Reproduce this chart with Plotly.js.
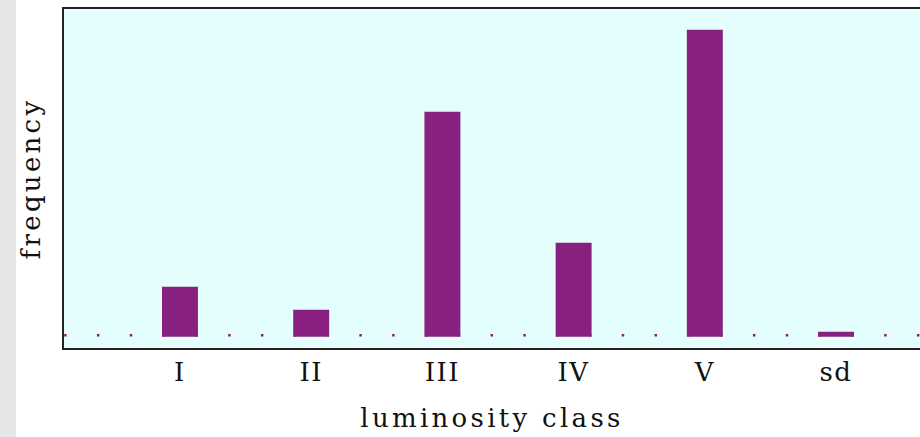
<!DOCTYPE html>
<html>
<head>
<meta charset="utf-8">
<script src="https://cdn.plot.ly/plotly-3.0.1.min.js"></script>
<style>
html,body{margin:0;padding:0;background:#ffffff;}
#strip{position:absolute;left:0;top:0;width:16px;height:437px;background:#e6e6e6;z-index:5;}
#chart{position:absolute;left:0;top:0;width:920px;height:437px;}
#chart .xtitle, #chart .ytitle{letter-spacing:3.3px;}
#chart .xtick text{letter-spacing:1.5px;}
</style>
</head>
<body>
<div id="strip"></div>
<div id="chart"></div>
<script>
// Data
var categories = ["I", "II", "III", "IV", "V", "sd"];
var positions = [0, 1, 2, 3, 4, 5];
var frequency = [50, 27, 225, 94, 307, 5];

var purple = "#88207f";
var fontFam = "DejaVu Serif, Liberation Serif, serif";

var bars = {
  type: "bar",
  x: positions,
  y: frequency,
  marker: {color: purple, line: {width: 0}},
  hoverinfo: "skip"
};

var layout = {
  width: 920,
  height: 437,
  margin: {l: 64, r: 0, t: 9, b: 89},
  paper_bgcolor: "rgba(0,0,0,0)",
  plot_bgcolor: "#e4fdfd",
  bargap: 0.726,
  showlegend: false,
  xaxis: {
    range: [-0.884, 5.64],
    tickmode: "array",
    tickvals: positions,
    ticktext: categories,
    ticks: "",
    showgrid: false,
    zeroline: false,
    showline: true,
    mirror: true,
    linecolor: "#222222",
    linewidth: 2,
    tickfont: {family: fontFam, size: 26, color: "#111111"},
    title: {text: "luminosity class", font: {family: fontFam, size: 26, color: "#111111"}, standoff: 23}
  },
  yaxis: {
    range: [-11.3, 327.7],
    showticklabels: false,
    ticks: "",
    showgrid: false,
    zeroline: false,
    showline: true,
    linecolor: "#222222",
    linewidth: 2,
    title: {text: "frequency", font: {family: fontFam, size: 26, color: "#111111"}, standoff: 14}
  },
  shapes: [{
    type: "line",
    layer: "below",
    xref: "x", yref: "y",
    x0: -0.883, x1: 5.64,
    y0: 1.5, y1: 1.5,
    line: {color: purple, width: 2.5, dash: "2.5px,30.3px"}
  }]
};

Plotly.newPlot("chart", [bars], layout, {displayModeBar: false, staticPlot: true});
</script>
</body>
</html>
